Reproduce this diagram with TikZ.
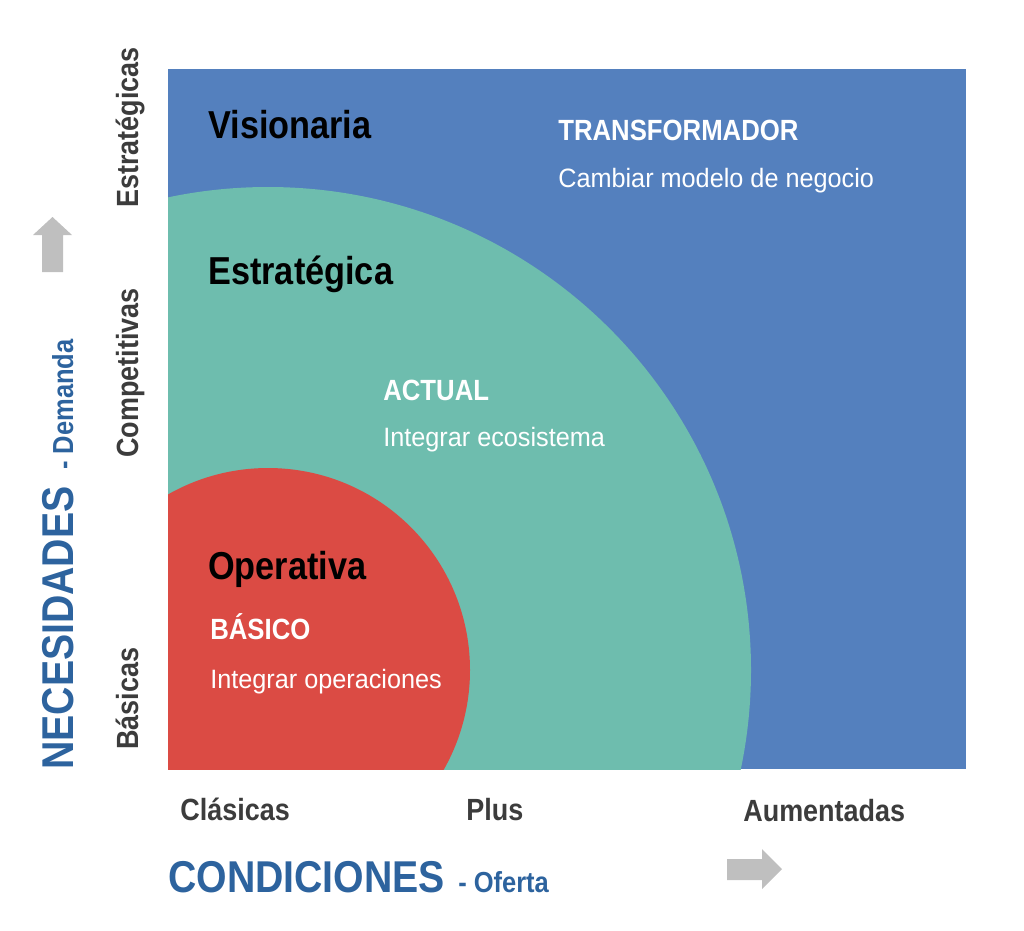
\documentclass[tikz,border=0pt]{standalone}
\usepackage{fontspec}
\setmainfont{Liberation Sans}[FakeStretch=0.95,BoldFeatures={FakeStretch=0.88}]
\usepackage{tikz}

\definecolor{zoneblue}{HTML}{5480BE}
\definecolor{zonegreen}{HTML}{6EBDAE}
\definecolor{zonered}{HTML}{DB4B44}
\definecolor{titleblue}{HTML}{2D639E}
\definecolor{axisgray}{HTML}{3C3C3C}
\definecolor{arrowgray}{HTML}{BFBFBF}

\begin{document}
\begin{tikzpicture}[x=0.025cm,y=-0.025cm,
  every node/.style={inner sep=0pt,anchor=base west},
  level/.style={font=\fontsize{27.7}{30}\selectfont\bfseries,text=black},
  phase/.style={font=\fontsize{20.8}{24}\selectfont\bfseries,text=white},
  goal/.style={font=\fontsize{18.9}{22}\selectfont,text=white},
  scalelabel/.style={font=\fontsize{21.8}{25}\selectfont\bfseries,text=axisgray},
  axistitle/.style={font=\fontsize{31.7}{36}\selectfont\bfseries,text=titleblue},
  axissub/.style={font=\fontsize{20.6}{24}\selectfont\bfseries,text=titleblue},]

  \useasboundingbox (0,0) rectangle (1024,930);

  % zones
  \fill[zoneblue] (168,69) rectangle (966,769);
  \begin{scope}
    \clip (168,69) rectangle (966,769);
    \fill[zonegreen] (268,670) circle[radius=483];
    \fill[zonered] (268,670) circle[radius=202];
  \end{scope}

  % transformador
  \node[level] (visionaria) at (208,138) {Visionaria};
  \node[phase] (transformador) at (558,140) {TRANSFORMADOR};
  \node[goal] (cambiar) at (558,187) {Cambiar modelo de negocio};

  % actual
  \node[level] (estrategica) at (208,284) {Estratégica};
  \node[phase] (actual) at (383,400) {ACTUAL};
  \node[goal] (ecosistema) at (383,446) {Integrar ecosistema};

  % basico
  \node[level] (operativa) at (208,579) {Operativa};
  \node[phase] (basico) at (210,639) {BÁSICO};
  \node[goal] (operaciones) at (210,688) {Integrar operaciones};

  % necesidades
  \node[scalelabel,rotate=90] (estrategicas) at (138,208) {Estratégicas};
  \node[scalelabel,rotate=90] (competitivas) at (138,458) {Competitivas};
  \node[scalelabel,rotate=90] (basicas) at (138,750) {Básicas};
  \node[axistitle,rotate=90] (necesidades) at (73,770) {NECESIDADES};
  \node[axissub,rotate=90] (demanda) at (73,470) {- Demanda};
  \fill[arrowgray] (42,272) -- (42,235) -- (33,235) -- (52.5,217)
    -- (72,235) -- (63,235) -- (63,272) -- cycle;

  % condiciones
  \node[scalelabel] (clasicas) at (180,820) {Clásicas};
  \node[scalelabel] (plus) at (466,820) {Plus};
  \node[scalelabel] (aumentadas) at (743,821) {Aumentadas};
  \node[axistitle] (condiciones) at (168,892) {CONDICIONES};
  \node[axissub] (oferta) at (458,892) {- Oferta};
  \fill[arrowgray] (727,859) -- (762,859) -- (762,849) -- (782,869)
    -- (762,889) -- (762,880) -- (727,880) -- cycle;

\end{tikzpicture}
\end{document}
